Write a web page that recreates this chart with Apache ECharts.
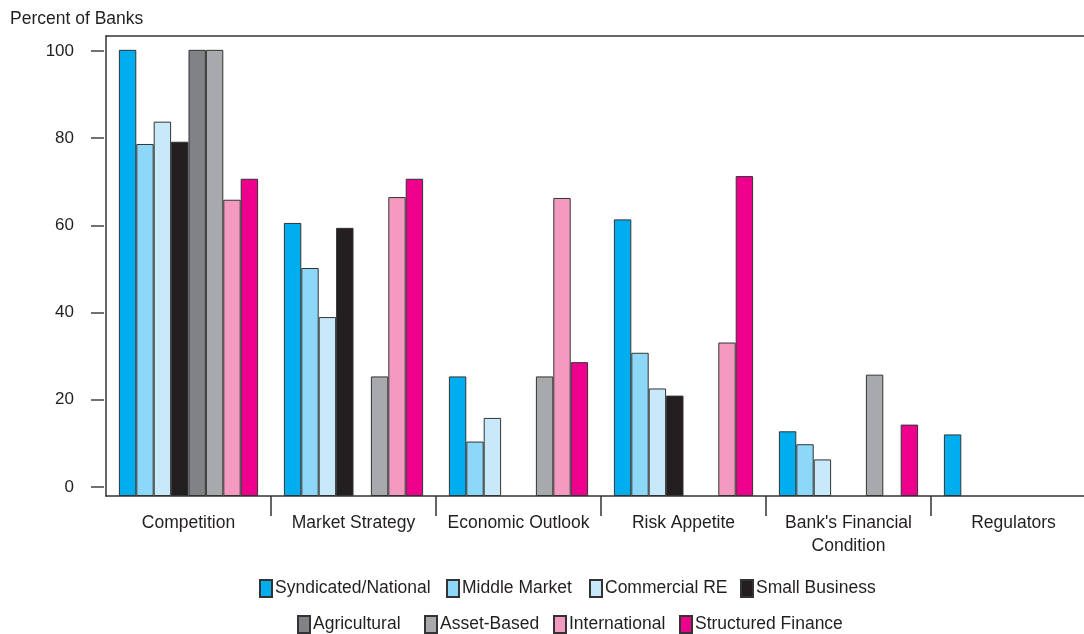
<!DOCTYPE html>
<html>
<head>
<meta charset="utf-8">
<script src="https://cdn.jsdelivr.net/npm/echarts@6/dist/echarts.min.js"></script>
<style>
html,body{margin:0;padding:0;background:#fff;overflow:hidden;width:1084px;height:634px;}
#chart{width:1100px;height:634px;}
</style>
</head>
<body>
<div id="chart"></div>
<script>
// ---- data ----
var categories = ['Competition', 'Market Strategy', 'Economic Outlook', 'Risk Appetite', "Bank's Financial\nCondition", 'Regulators'];
var seriesNames = ['Syndicated/National', 'Middle Market', 'Commercial RE', 'Small Business', 'Agricultural', 'Asset-Based', 'International', 'Structured Finance'];
var syndicated   = [100, 61.2, 26.8, 62.0, 14.5, 13.8];
var middleMarket = [78.9, 51.1, 12.2, 32.1, 11.6, null];
var commercialRE = [83.9, 40.1, 17.5, 24.1, 8.2, null];
var smallBiz     = [79.4, 60.1, null, 22.5, null, null];
var agricultural = [100, null, null, null, null, null];
var assetBased   = [100, 26.8, 26.8, null, 27.2, null];
var international= [66.4, 67.0, 66.8, 34.4, null, null];
var structured   = [71.1, 71.1, 30.0, 71.7, 16.0, null];
var yTickValues  = [0, 20, 40, 60, 80, 100];

var seriesData = [syndicated, middleMarket, commercialRE, smallBiz, agricultural, assetBased, international, structured];
var colors = ['#00AEEF', '#8DD8F8', '#C8E9F9', '#231F20', '#808285', '#A7A9AC', '#F49AC1', '#EC008C'];

// legend layout (icon left x, row top y) per series
var legendLeft = [259, 446, 589, 740, 297, 424, 553, 679];
var legendTop  = [579, 579, 579, 579, 615, 615, 615, 615];

var FONT = "'Liberation Sans', Arial, Helvetica, sans-serif";
var TXT = '#231F20';

var chart = echarts.init(document.getElementById('chart'), null, {renderer: 'canvas'});

var series = seriesNames.map(function (n, i) {
  return {
    name: n,
    type: 'bar',
    xAxisIndex: 0,
    yAxisIndex: 0,
    data: seriesData[i],
    barWidth: 17.4,
    barGap: '0%',
    itemStyle: {color: colors[i], borderColor: '#333', borderWidth: 1},
    emphasis: {disabled: true},
    animation: false
  };
});

var legends = seriesNames.map(function (n, i) {
  return {
    data: [n],
    icon: 'rect',
    left: legendLeft[i], top: legendTop[i],
    padding: 0,
    itemWidth: 12, itemHeight: 17,
    textStyle: {fontFamily: FONT, fontSize: 17.5, color: TXT, padding: [0, 0, 0, -2]},
    selectedMode: false
  };
});

var option = {
  animation: false,
  title: {
    text: 'Percent of Banks',
    left: 5, top: 5,
    textStyle: {fontFamily: FONT, fontSize: 17.5, fontWeight: 'normal', color: TXT}
  },
  grid: {left: 106, width: 990, top: 36, height: 460, containLabel: false},
  legend: legends,
  xAxis: [
    {
      type: 'category',
      data: categories,
      position: 'bottom',
      axisLine: {show: true, onZero: false, lineStyle: {color: '#333', width: 1.5}},
      axisTick: {show: true, length: 20, interval: function (i) { return i !== 0; }, lineStyle: {color: '#333', width: 1.5}},
      axisLabel: {fontFamily: FONT, fontSize: 17.5, color: TXT, margin: 16, lineHeight: 23, interval: 0},
      splitLine: {show: false}
    },
    {
      type: 'category',
      data: categories,
      position: 'top',
      axisLine: {show: true, onZero: false, lineStyle: {color: '#333', width: 1.5}},
      axisTick: {show: false},
      axisLabel: {show: false},
      splitLine: {show: false}
    }
  ],
  yAxis: [
    {
      type: 'value',
      min: 0, max: 103.1,
      position: 'left',
      axisLine: {show: true, onZero: false, lineStyle: {color: '#333', width: 1.5}},
      axisTick: {show: false},
      axisLabel: {show: false},
      splitLine: {show: false}
    },
    {
      type: 'value',
      min: -2.06, max: 103.4,
      position: 'left',
      offset: 2,
      axisLine: {show: false, onZero: false},
      axisTick: {show: true, length: 13, customValues: yTickValues, lineStyle: {color: '#444', width: 1.5}},
      axisLabel: {show: true, customValues: yTickValues, margin: 30, fontFamily: FONT, fontSize: 17, color: TXT},
      splitLine: {show: false}
    }
  ],
  series: series
};
chart.setOption(option);
</script>
</body>
</html>
